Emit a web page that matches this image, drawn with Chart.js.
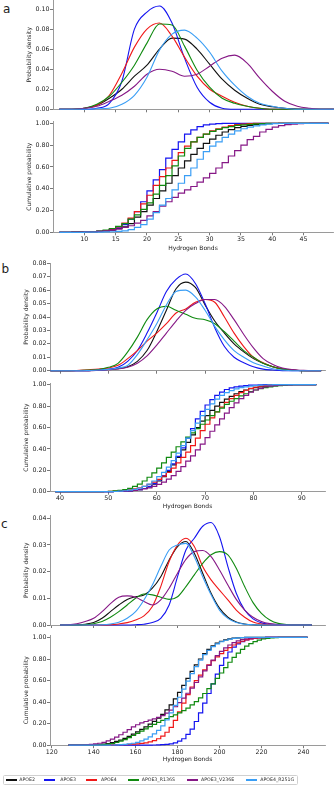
<!DOCTYPE html>
<html>
<head>
<meta charset="utf-8">
<script src="https://cdn.jsdelivr.net/npm/chart.js@4.4.1/dist/chart.umd.min.js"></script>
<style>
    html, body { margin: 0; padding: 0; background: #fff; }
    #page { position: relative; width: 334px; height: 785px; overflow: hidden; font-family: "DejaVu Sans", sans-serif; color: #222; }
    .panel { position: absolute; left: 0; width: 334px; }
    .letter { position: absolute; font-size: 12px; line-height: 12px; }
    #legend { position: absolute; left: 2.5px; top: 774.5px; width: 293px; height: 8.5px; border: 0.8px solid #d0d0d0; border-radius: 1.5px; }
    .lg-line { position: absolute; top: 3.5px; width: 11px; height: 1.5px; }
    .lg-text { position: absolute; top: 0; font-size: 4.7px; line-height: 8.5px; white-space: nowrap; color: #333; }
</style>
</head>
<body>
<div id="page">
    <div class="letter" style="left:3px;top:2.5px">a</div>
    <div class="letter" style="left:1.5px;top:262.5px">b</div>
    <div class="letter" style="left:1px;top:518px">c</div>

    <div class="panel" style="top:-6px;height:120px"><canvas id="densA"></canvas></div>
    <div class="panel" style="top:115px;height:137px"><canvas id="cdfA"></canvas></div>
    <div class="panel" style="top:257px;height:118px"><canvas id="densB"></canvas></div>
    <div class="panel" style="top:377px;height:133.3px"><canvas id="cdfB"></canvas></div>
    <div class="panel" style="top:509px;height:121px"><canvas id="densC"></canvas></div>
    <div class="panel" style="top:629px;height:134px"><canvas id="cdfC"></canvas></div>

    <div id="legend"></div>
</div>

<script>
"use strict";

// ═══════════════════════════════════════
// SÉRIES
// ═══════════════════════════════════════
const seriesNames  = ["APOE2", "APOE3", "APOE4", "APOE3_R136S", "APOE3_V236E", "APOE4_R251G"];
const seriesColors = ["#111111", "#1414f0", "#f01818", "#108a10", "#861886", "#3a9ef5"];

// ═══════════════════════════════════════
// PANEL a
// ═══════════════════════════════════════
const densA_x = [6,8,10,12,14,16,18,20,22,24,26,28,30,32,34,36,38,40,42,44,46,48,50];
const densA_apoe2 = [0,0,0.001,0.004,0.011,0.02,0.033,0.044,0.06,0.071,0.07,0.06,0.045,0.03,0.019,0.011,0.005,0.0025,0.001,0.0003,0,0,0];
const densA_apoe3 = [0,0,0,0.001,0.006,0.028,0.08,0.097,0.103,0.086,0.051,0.022,0.007,0.001,0,0,0,0,0,0,0,0,0];
const densA_apoe4 = [0,0,0.001,0.004,0.014,0.036,0.062,0.08,0.086,0.073,0.052,0.033,0.02,0.013,0.007,0.003,0.001,0,0,0,0,0,0];
const densA_r136s = [0,0,0.001,0.005,0.013,0.027,0.044,0.066,0.085,0.084,0.063,0.039,0.022,0.011,0.006,0.003,0.001,0,0,0,0,0,0];
const densA_v236e = [0,0,0.001,0.003,0.008,0.014,0.023,0.035,0.04,0.038,0.033,0.035,0.043,0.051,0.054,0.046,0.031,0.018,0.008,0.003,0.001,0,0];
const densA_r251g = [0,0,0,0.0005,0.001,0.005,0.014,0.032,0.059,0.075,0.079,0.071,0.057,0.038,0.024,0.013,0.006,0.003,0.001,0,0,0,0];

const cdfA_x = [6,7,8,9,10,11,12,13,14,15,16,17,18,19,20,21,22,23,24,25,26,27,28,29,30,31,32,33,34,35,36,37,38,39,40,41,42,43,44,45,46,47,48,49];
const cdfA_apoe2 = [0,0,0.001,0.002,0.003,0.005,0.008,0.013,0.02,0.035,0.05,0.08,0.14,0.19,0.25,0.31,0.38,0.45,0.52,0.59,0.655,0.715,0.77,0.815,0.855,0.89,0.92,0.942,0.96,0.972,0.981,0.988,0.993,0.996,0.998,1,1,1,1,1,1,1,1,1];
const cdfA_apoe3 = [0,0,0,0.001,0.002,0.004,0.008,0.015,0.025,0.04,0.07,0.12,0.19,0.28,0.38,0.48,0.575,0.68,0.76,0.83,0.9,0.94,0.97,0.985,0.993,0.997,1,1,1,1,1,1,1,1,1,1,1,1,1,1,1,1,1,1];
const cdfA_apoe4 = [0,0,0.001,0.001,0.002,0.004,0.008,0.015,0.03,0.05,0.085,0.13,0.19,0.26,0.34,0.43,0.51,0.59,0.66,0.73,0.79,0.83,0.87,0.9,0.93,0.95,0.965,0.978,0.987,0.993,0.997,1,1,1,1,1,1,1,1,1,1,1,1,1];
const cdfA_r136s = [0,0,0.001,0.002,0.003,0.006,0.01,0.02,0.035,0.055,0.08,0.12,0.16,0.21,0.27,0.35,0.43,0.52,0.61,0.7,0.77,0.83,0.87,0.9,0.925,0.945,0.96,0.97,0.98,0.985,0.99,0.995,0.998,1,1,1,1,1,1,1,1,1,1,1];
const cdfA_v236e = [0,0,0.001,0.002,0.003,0.005,0.008,0.013,0.02,0.03,0.045,0.06,0.085,0.11,0.15,0.19,0.24,0.28,0.32,0.36,0.39,0.42,0.46,0.5,0.54,0.59,0.64,0.7,0.75,0.8,0.85,0.88,0.92,0.945,0.965,0.978,0.987,0.993,0.996,0.998,1,1,1,1];
const cdfA_r251g = [0,0,0,0,0.001,0.001,0.002,0.003,0.005,0.008,0.013,0.025,0.045,0.07,0.12,0.18,0.25,0.31,0.39,0.45,0.52,0.59,0.67,0.74,0.79,0.83,0.87,0.9,0.93,0.95,0.965,0.977,0.986,0.992,0.996,0.998,1,1,1,1,1,1,1,1];

// ═══════════════════════════════════════
// PANEL b
// ═══════════════════════════════════════
const densB_x = [38,40,42,44,46,48,50,52,54,56,58,60,62,64,66,68,70,72,74,76,78,80,82,84,86,88,90,92,94];
const densB_apoe2 = [0,0,0,0,0,0.0005,0.001,0.0015,0.003,0.007,0.015,0.029,0.045,0.061,0.066,0.062,0.049,0.037,0.028,0.02,0.014,0.009,0.0055,0.003,0.0015,0.0005,0,0,0];
const densB_apoe3 = [0,0,0,0,0,0.0005,0.001,0.0025,0.007,0.015,0.028,0.043,0.059,0.068,0.072,0.065,0.05,0.032,0.018,0.01,0.006,0.003,0.0012,0.0005,0,0,0,0,0];
const densB_apoe4 = [0,0,0,0.0003,0.0007,0.0012,0.002,0.004,0.009,0.015,0.022,0.028,0.035,0.043,0.046,0.051,0.053,0.051,0.04,0.028,0.018,0.01,0.006,0.003,0.0012,0.0005,0,0,0];
const densB_r136s = [0,0,0,0.0002,0.0004,0.0008,0.0025,0.0055,0.014,0.025,0.038,0.046,0.048,0.045,0.042,0.039,0.038,0.035,0.029,0.022,0.015,0.01,0.0055,0.003,0.0012,0.0005,0,0,0];
const densB_v236e = [0,0,0,0,0,0.0003,0.0007,0.0013,0.0025,0.0055,0.011,0.019,0.028,0.037,0.045,0.05,0.053,0.053,0.048,0.038,0.027,0.017,0.009,0.0047,0.002,0.0008,0.0003,0,0];
const densB_r251g = [0,0,0,0,0.0002,0.0005,0.001,0.002,0.004,0.012,0.023,0.035,0.049,0.059,0.06,0.055,0.045,0.033,0.023,0.015,0.01,0.006,0.0035,0.0015,0.0005,0,0,0,0];

const cdfB_x = [39,40,41,42,43,44,45,46,47,48,49,50,51,52,53,54,55,56,57,58,59,60,61,62,63,64,65,66,67,68,69,70,71,72,73,74,75,76,77,78,79,80,81,82,83,84,85,86,87,88,89,90,91,92,93];
const cdfB_apoe2 = [0,0,0,0,0,0,0,0,0,0,0,0.001,0.002,0.004,0.006,0.009,0.013,0.02,0.03,0.045,0.07,0.1,0.14,0.19,0.25,0.32,0.39,0.46,0.53,0.6,0.66,0.71,0.76,0.8,0.835,0.865,0.89,0.915,0.935,0.95,0.962,0.972,0.98,0.986,0.991,0.994,0.997,0.999,1,1,1,1,1,1,1];
const cdfB_apoe3 = [0,0,0,0,0,0,0,0,0,0,0,0.001,0.002,0.003,0.005,0.008,0.012,0.02,0.03,0.05,0.075,0.11,0.15,0.2,0.26,0.33,0.41,0.5,0.59,0.68,0.75,0.81,0.86,0.9,0.93,0.955,0.97,0.98,0.987,0.992,0.995,0.997,0.999,1,1,1,1,1,1,1,1,1,1,1,1];
const cdfB_apoe4 = [0,0,0,0,0,0,0,0,0,0.001,0.002,0.003,0.005,0.008,0.012,0.018,0.026,0.037,0.05,0.068,0.09,0.115,0.145,0.18,0.22,0.27,0.32,0.37,0.43,0.5,0.57,0.63,0.69,0.745,0.79,0.835,0.87,0.9,0.925,0.948,0.965,0.977,0.986,0.992,0.995,0.997,0.999,1,1,1,1,1,1,1,1];
const cdfB_r136s = [0,0,0,0,0,0,0,0,0,0.001,0.002,0.004,0.007,0.012,0.02,0.032,0.05,0.07,0.1,0.135,0.175,0.22,0.27,0.32,0.37,0.42,0.465,0.51,0.55,0.59,0.63,0.67,0.71,0.745,0.78,0.815,0.845,0.87,0.895,0.915,0.935,0.95,0.962,0.972,0.98,0.987,0.992,0.995,0.998,1,1,1,1,1,1];
const cdfB_v236e = [0,0,0,0,0,0,0,0,0,0,0,0.001,0.002,0.003,0.005,0.008,0.012,0.018,0.026,0.036,0.05,0.068,0.09,0.118,0.15,0.19,0.235,0.285,0.335,0.39,0.445,0.505,0.565,0.625,0.68,0.735,0.785,0.83,0.87,0.9,0.93,0.95,0.966,0.978,0.986,0.992,0.995,0.997,0.999,1,1,1,1,1,1];
const cdfB_r251g = [0,0,0,0,0,0,0,0,0,0,0,0.001,0.002,0.005,0.009,0.014,0.022,0.033,0.05,0.07,0.1,0.14,0.18,0.23,0.29,0.36,0.43,0.5,0.57,0.64,0.71,0.77,0.82,0.865,0.9,0.925,0.945,0.96,0.972,0.98,0.987,0.992,0.995,0.997,0.999,1,1,1,1,1,1,1,1,1,1];

// ═══════════════════════════════════════
// PANEL c
// ═══════════════════════════════════════
const densC_x = [124,128,132,136,140,144,148,152,156,160,164,168,172,176,180,184,188,192,196,200,204,208,212,216,220,224,228,232,236,240,244];
const densC_apoe2 = [0,0,0.0001,0.0003,0.0009,0.0025,0.005,0.0075,0.0096,0.0106,0.0112,0.0138,0.0181,0.0244,0.0294,0.0313,0.0269,0.0194,0.0119,0.0063,0.0029,0.0011,0.0004,0.0001,0,0,0,0,0,0,0];
const densC_apoe3 = [0,0,0,0,0,0,0,0,0,0.0001,0.0003,0.0009,0.0025,0.0075,0.0181,0.0281,0.0325,0.037,0.0384,0.0331,0.0219,0.0119,0.0056,0.0023,0.0008,0.0002,0,0,0,0,0];
const densC_apoe4 = [0,0,0,0,0,0,0.0001,0.0004,0.0009,0.0019,0.0034,0.0069,0.0144,0.0238,0.03,0.0325,0.0294,0.0219,0.0169,0.0131,0.0094,0.0056,0.0029,0.0011,0.0004,0.0001,0,0,0,0,0];
const densC_r136s = [0,0,0,0.0001,0.0005,0.0013,0.0029,0.005,0.0075,0.01,0.0116,0.0113,0.0104,0.0096,0.0106,0.0144,0.0188,0.0231,0.0263,0.0275,0.0263,0.0213,0.0144,0.0084,0.0044,0.0019,0.0006,0.0002,0,0,0];
const densC_v236e = [0,0.0001,0.0005,0.0013,0.0025,0.005,0.008,0.0104,0.0109,0.0104,0.0088,0.0075,0.0094,0.0138,0.0194,0.0246,0.0275,0.0279,0.0256,0.0206,0.015,0.0096,0.0056,0.0029,0.0013,0.0005,0.0002,0,0,0,0];
const densC_r251g = [0,0,0,0,0,0.0001,0.0004,0.001,0.0025,0.005,0.0094,0.015,0.0219,0.0281,0.03,0.0306,0.0256,0.0181,0.0113,0.0056,0.0025,0.0009,0.0003,0.0001,0,0,0,0,0,0,0];

const cdfC_x = [128,130,132,134,136,138,140,142,144,146,148,150,152,154,156,158,160,162,164,166,168,170,172,174,176,178,180,182,184,186,188,190,192,194,196,198,200,202,204,206,208,210,212,214,216,218,220,222,224,226,228,230,232,234,236,238,240,242];
const cdfC_apoe2 = [0,0,0,0.001,0.001,0.002,0.004,0.006,0.01,0.016,0.024,0.035,0.048,0.064,0.082,0.102,0.124,0.147,0.17,0.195,0.222,0.252,0.287,0.328,0.375,0.43,0.49,0.555,0.62,0.685,0.745,0.8,0.85,0.89,0.922,0.947,0.965,0.978,0.987,0.993,0.997,0.999,1,1,1,1,1,1,1,1,1,1,1,1,1,1,1,1];
const cdfC_apoe3 = [0,0,0,0,0,0,0,0,0,0,0,0,0,0,0,0,0,0,0,0.001,0.002,0.003,0.005,0.008,0.013,0.022,0.037,0.06,0.1,0.15,0.22,0.3,0.39,0.48,0.57,0.66,0.74,0.81,0.865,0.91,0.94,0.962,0.977,0.987,0.993,0.997,0.999,1,1,1,1,1,1,1,1,1,1,1];
const cdfC_apoe4 = [0,0,0,0,0,0,0.001,0.001,0.002,0.002,0.003,0.004,0.005,0.006,0.008,0.01,0.013,0.017,0.022,0.03,0.042,0.06,0.085,0.12,0.165,0.23,0.31,0.39,0.47,0.54,0.6,0.65,0.7,0.745,0.785,0.82,0.85,0.88,0.905,0.93,0.95,0.965,0.977,0.986,0.992,0.996,0.998,1,1,1,1,1,1,1,1,1,1,1];
const cdfC_r136s = [0,0,0,0,0,0.001,0.002,0.003,0.006,0.01,0.016,0.025,0.037,0.052,0.07,0.09,0.11,0.13,0.152,0.173,0.193,0.212,0.23,0.248,0.265,0.282,0.3,0.32,0.345,0.375,0.405,0.44,0.48,0.525,0.57,0.62,0.67,0.72,0.77,0.815,0.855,0.89,0.92,0.943,0.962,0.976,0.986,0.992,0.996,0.998,1,1,1,1,1,1,1,1];
const cdfC_v236e = [0,0,0.001,0.002,0.004,0.007,0.012,0.018,0.027,0.04,0.056,0.075,0.097,0.12,0.145,0.17,0.19,0.207,0.22,0.232,0.244,0.258,0.275,0.297,0.325,0.357,0.395,0.437,0.482,0.53,0.582,0.635,0.69,0.74,0.79,0.832,0.87,0.903,0.93,0.952,0.968,0.98,0.988,0.993,0.996,0.998,0.999,1,1,1,1,1,1,1,1,1,1,1];
const cdfC_r251g = [0,0,0,0,0,0,0,0,0,0.001,0.002,0.003,0.005,0.008,0.012,0.018,0.027,0.04,0.057,0.078,0.105,0.138,0.18,0.235,0.3,0.37,0.445,0.52,0.595,0.665,0.73,0.79,0.84,0.88,0.915,0.94,0.96,0.974,0.985,0.992,0.996,0.998,1,1,1,1,1,1,1,1,1,1,1,1,1,1,1,1];

// ═══════════════════════════════════════
// GRADUATIONS
// ═══════════════════════════════════════
const ticksA_x = [10,15,20,25,30,35,40,45];
const ticksB_x = [40,50,60,70,80,90];
const ticksC_x = [120,140,160,180,200,220,240];
const ticksDensA_y = [0,0.02,0.04,0.06,0.08,0.10];
const ticksDensB_y = [0,0.01,0.02,0.03,0.04,0.05,0.06,0.07,0.08];
const ticksDensC_y = [0,0.01,0.02,0.03,0.04];
const ticksCdf_y = [0,0.2,0.4,0.6,0.8,1.0];

// ═══════════════════════════════════════
// CONSTRUCTION
// ═══════════════════════════════════════
Chart.defaults.font.family = '"DejaVu Sans", sans-serif';
Chart.defaults.color = "#222";

const PAGE_W = 334;
const TICK_FONT = { size: 6.3 };
const TITLE_FONT = { size: 6 };

function fixedTicks(values) {
    return scale => { scale.ticks = values.map(v => ({ value: v })); };
}

function buildChart(canvasId, geo, opt) {
    const datasets = opt.series.map((ys, i) => ({
        label: seriesNames[i],
        data: opt.xs.map((x, j) => ({ x, y: ys[j] })),
        borderColor: seriesColors[i],
        borderWidth: opt.stepped ? 1.2 : 1.1,
        pointRadius: 0,
        fill: false,
        stepped: opt.stepped ? "before" : false,
        cubicInterpolationMode: opt.stepped ? "default" : "monotone",
        order: seriesNames.length - i,
        clip: false
    }));

    const axisCommon = {
        type: "linear",
        grid: { drawOnChartArea: false, drawTicks: true, tickLength: 3, color: "#555", lineWidth: 0.8 },
        border: { display: true, color: "#9a9a9a", width: 1 }
    };

    return new Chart(document.getElementById(canvasId), {
        type: "line",
        data: { datasets },
        options: {
            animation: false,
            responsive: true,
            maintainAspectRatio: false,
            events: [],
            layout: { padding: { left: geo.padLeft, top: geo.plotTop - geo.top, right: PAGE_W - geo.plotRight, bottom: 0 } },
            plugins: { legend: { display: false }, tooltip: { enabled: false } },
            scales: {
                x: {
                    ...axisCommon,
                    min: opt.xMin, max: opt.xMax,
                    afterBuildTicks: fixedTicks(opt.xTicks),
                    afterFit: s => { s.height = geo.top + geo.height - geo.plotBottom; },
                    ticks: { display: !!opt.xLabels, font: TICK_FONT, padding: 0, maxRotation: 0, autoSkip: false, callback: v => String(v) },
                    title: { display: !!opt.xLabels, text: "Hydrogen Bonds", font: TITLE_FONT, padding: 0 }
                },
                y: {
                    ...axisCommon,
                    min: 0, max: opt.yMax,
                    afterBuildTicks: fixedTicks(opt.yTicks),
                    afterFit: s => { s.width = geo.plotLeft - geo.padLeft; },
                    ticks: { font: TICK_FONT, padding: 0.5, autoSkip: false, callback: v => v.toFixed(2) },
                    title: { display: true, text: opt.yTitle, font: TITLE_FONT, padding: 0 }
                }
            }
        }
    });
}

// panel a
buildChart("densA",
    { top: -6, height: 120, plotTop: 0.3, plotBottom: 109.3, plotLeft: 53, plotRight: 333, padLeft: 25.4 },
    { xs: densA_x, series: [densA_apoe2, densA_apoe3, densA_apoe4, densA_r136s, densA_v236e, densA_r251g],
      xMin: 5, xMax: 49.7, xTicks: ticksA_x, yMax: 0.1087, yTicks: ticksDensA_y, yTitle: "Probability density" });

buildChart("cdfA",
    { top: 115, height: 137, plotTop: 121.1, plotBottom: 232.3, plotLeft: 53, plotRight: 333, padLeft: 25.4 },
    { xs: cdfA_x, series: [cdfA_apoe2, cdfA_apoe3, cdfA_apoe4, cdfA_r136s, cdfA_v236e, cdfA_r251g], stepped: true,
      xMin: 5, xMax: 49.7, xTicks: ticksA_x, xLabels: true, yMax: 1.02, yTicks: ticksCdf_y, yTitle: "Cumulative probability" });

// panel b
buildChart("densB",
    { top: 257, height: 118, plotTop: 263.3, plotBottom: 370.7, plotLeft: 50, plotRight: 325, padLeft: 23.1 },
    { xs: densB_x, series: [densB_apoe2, densB_apoe3, densB_apoe4, densB_r136s, densB_v236e, densB_r251g],
      xMin: 37.93, xMax: 94.8, xTicks: ticksB_x, yMax: 0.08, yTicks: ticksDensB_y, yTitle: "Probability density" });

buildChart("cdfB",
    { top: 377, height: 133.3, plotTop: 383.6, plotBottom: 491.7, plotLeft: 50, plotRight: 325, padLeft: 23.1 },
    { xs: cdfB_x, series: [cdfB_apoe2, cdfB_apoe3, cdfB_apoe4, cdfB_r136s, cdfB_v236e, cdfB_r251g], stepped: true,
      xMin: 37.93, xMax: 94.8, xTicks: ticksB_x, xLabels: true, yMax: 1.01, yTicks: ticksCdf_y, yTitle: "Cumulative probability" });

// panel c
buildChart("densC",
    { top: 509, height: 121, plotTop: 515.6, plotBottom: 625, plotLeft: 50, plotRight: 325, padLeft: 23.1 },
    { xs: densC_x, series: [densC_apoe2, densC_apoe3, densC_apoe4, densC_r136s, densC_v236e, densC_r251g],
      xMin: 119.2, xMax: 250.3, xTicks: ticksC_x, yMax: 0.041, yTicks: ticksDensC_y, yTitle: "Probability density" });

buildChart("cdfC",
    { top: 629, height: 134, plotTop: 635.3, plotBottom: 745.2, plotLeft: 50, plotRight: 325, padLeft: 23.1 },
    { xs: cdfC_x, series: [cdfC_apoe2, cdfC_apoe3, cdfC_apoe4, cdfC_r136s, cdfC_v236e, cdfC_r251g], stepped: true,
      xMin: 119.2, xMax: 250.3, xTicks: ticksC_x, xLabels: true, yMax: 1.02, yTicks: ticksCdf_y, yTitle: "Cumulative probability" });

// ═══════════════════════════════════════
// LÉGENDE
// ═══════════════════════════════════════
const legendLineX = [2.5, 40.8, 82.5, 124.2, 183.5, 242.5];
const legendTextX = [15.8, 56.8, 97.5, 138.2, 197.5, 256.8];
document.getElementById("legend").innerHTML = seriesNames.map((name, i) => `
    <span class="lg-line" style="left:${legendLineX[i]}px;background:${seriesColors[i]}"></span>
    <span class="lg-text" style="left:${legendTextX[i]}px">${name}</span>`
).join("");
</script>
</body>
</html>
